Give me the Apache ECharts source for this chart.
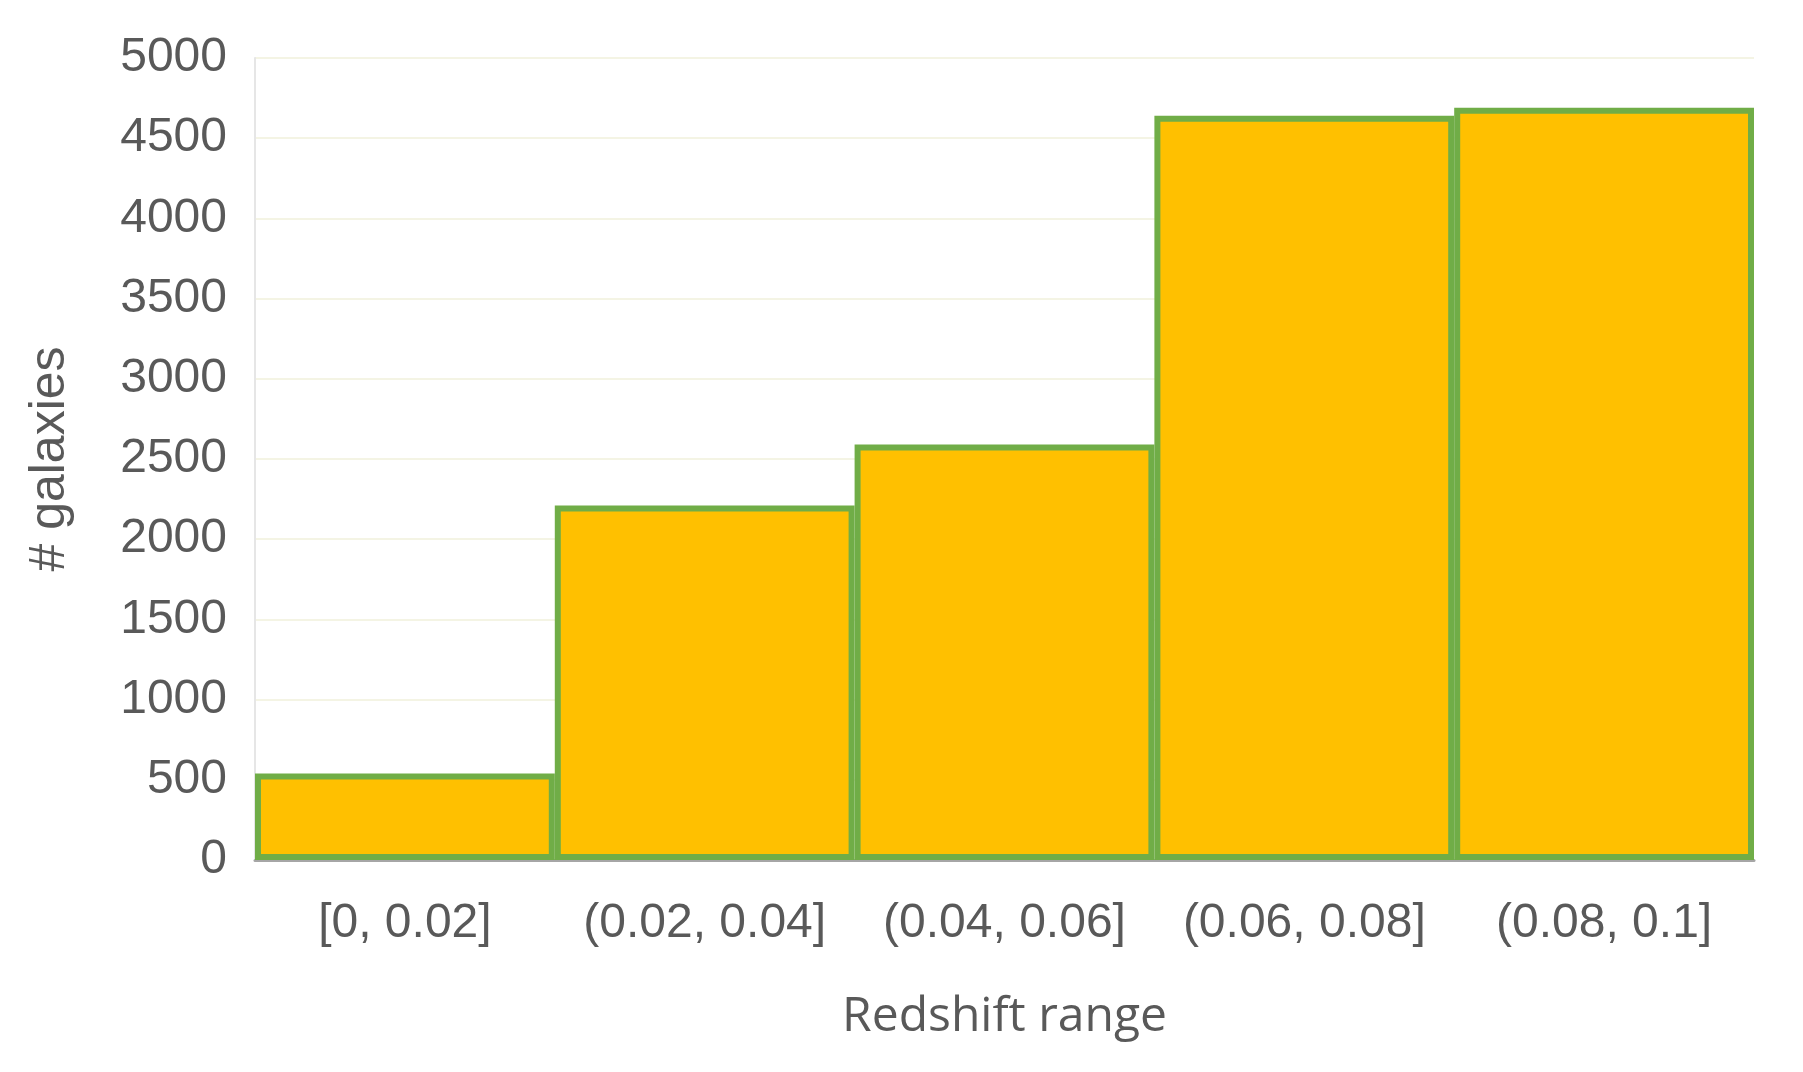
<!DOCTYPE html>
<html style="height: 100%">

<head>
    <meta charset="utf-8">
    <script src="https://cdn.jsdelivr.net/npm/echarts@6/dist/echarts.min.js"></script>
</head>

<body style="height: 100%; margin: 0; background: #fff">
    <div id="chart" style="width: 1803px; height: 1072px"></div>
    <script type="text/javascript">
        var categories = ['[0, 0.02]', '(0.02, 0.04]', '(0.04, 0.06]', '(0.06, 0.08]', '(0.08, 0.1]'];
        var galaxies = [540, 2210, 2590, 4640, 4690];
        var yTicks = [0, 500, 1000, 1500, 2000, 2500, 3000, 3500, 4000, 4500, 5000];

        var myChart = echarts.init(document.getElementById('chart'));
        myChart.setOption({
            animation: false,
            grid: { left: 255, right: 49, top: 58, bottom: 212 },
            xAxis: {
                type: 'category',
                data: categories,
                name: 'Redshift range',
                nameLocation: 'middle',
                nameGap: 133,
                nameTextStyle: { fontFamily: 'Open Sans', fontSize: 48, color: '#595959' },
                axisLine: { lineStyle: { color: '#a6a6a6', width: 3 } },
                axisTick: { show: false },
                axisLabel: {
                    interval: 0, fontFamily: 'Liberation Sans', fontSize: 48,
                    color: '#595959', margin: 40
                }
            },
            yAxis: {
                type: 'value',
                min: yTicks[0],
                max: yTicks[yTicks.length - 1],
                interval: 500,
                name: '# galaxies',
                nameLocation: 'middle',
                nameGap: 180,
                nameTextStyle: { fontFamily: 'Liberation Sans', fontSize: 50, color: '#595959' },
                axisLine: { show: true, lineStyle: { color: '#e6e6e6', width: 2 } },
                axisTick: { show: false },
                axisLabel: {
                    fontFamily: 'Liberation Sans', fontSize: 48, color: '#595959', margin: 28,
                    formatter: function (v) { return String(v); }
                },
                splitLine: { lineStyle: { color: '#f4f4e4', width: 2 } }
            },
            series: [{
                type: 'bar',
                data: galaxies,
                barCategoryGap: 0,
                itemStyle: { color: '#ffc000', borderColor: '#70ad47', borderWidth: 6 }
            }]
        });
    </script>
</body>

</html>
